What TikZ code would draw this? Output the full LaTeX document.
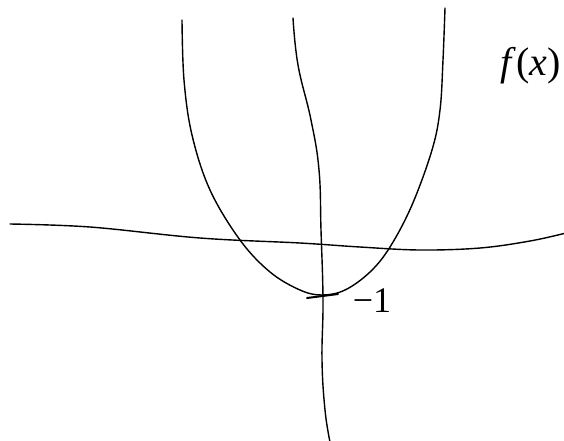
\documentclass[tikz,border=0pt]{standalone}
\usepackage{fontspec}
\setmainfont{Liberation Serif}
\begin{document}
\begin{tikzpicture}[x=1pt,y=-1pt,
  hand/.style={line width=1.4pt,line cap=round,line join=round,black},
  lbl/.style={inner sep=0pt,black}]
\useasboundingbox (0,0) rectangle (564,440);
\clip (0,0) rectangle (564,440);
% x-axis
\draw[hand] plot[smooth,tension=0.6] coordinates {(10,224) (90,227) (200,238) (300,243) (360,247) (420,250) (480,248) (530,241) (566,233)};
% y-axis
\draw[hand] plot[smooth,tension=0.7] coordinates {(293,18) (298,65) (311,120) (319,170) (321,230) (323,300) (322,360) (325,410) (330,442)};
% parabola
\draw[hand] plot[smooth,tension=0.6] coordinates {(182,20) (184,80) (192,135) (210,190) (240,240) (270,272) (300,290) (322,295) (345,290) (370,272) (390,247) (412,205) (432,150) (440,110) (443,60) (445,8)};
% tick at vertex
\coordinate (t1) at (307,298);
\coordinate (t2) at (338,294);
\draw[hand,line width=2pt] (t1) -- (t2);
% labels
\node[lbl,anchor=east] (fx) at (561,66) {\fontsize{40}{40}\selectfont \textit{f}(\textit{x})};
\node[lbl] (m1) at (372,301) {\fontsize{36}{36}\selectfont \textminus 1};
\end{tikzpicture}
\end{document}
